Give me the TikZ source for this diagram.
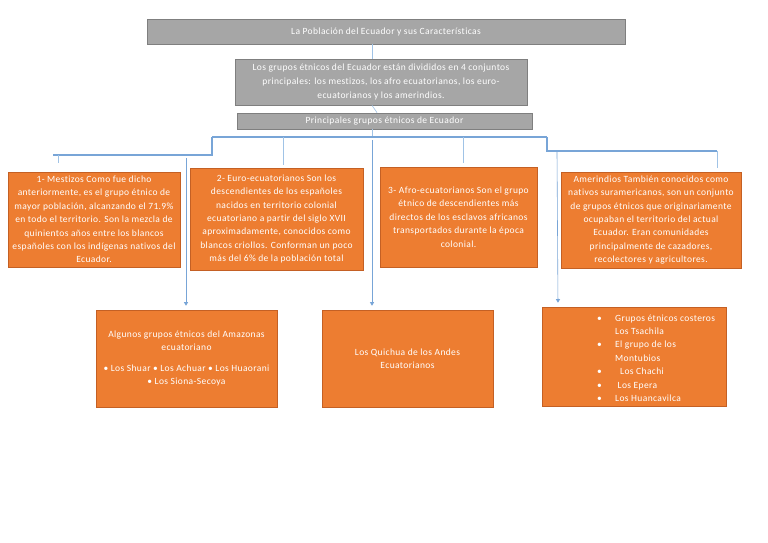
\documentclass[tikz,border=0pt]{standalone}
\usepackage{fontspec}
\setmainfont{Carlito}[LetterSpace=4,Ligatures={NoCommon,NoRequired,NoContextual}]
\usetikzlibrary{arrows.meta,calc}
\definecolor{grayfill}{RGB}{166,166,166}
\definecolor{grayline}{RGB}{127,127,127}
\definecolor{orangefill}{RGB}{237,125,49}
\definecolor{orangeline}{RGB}{196,96,36}
\definecolor{linkblue}{RGB}{120,165,215}
\definecolor{linklight}{RGB}{160,195,230}
\tikzset{
  graybox/.style={draw=grayline, fill=grayfill, line width=0.8pt, inner sep=0pt, text=white, align=center,
    font=\fontsize{9.5}{13.6}\selectfont},
  orangebox/.style={draw=orangeline, fill=orangefill, line width=0.6pt, inner sep=0pt, text=white, align=center,
    font=\fontsize{9.5}{13.4}\selectfont},
  mainlink/.style={draw=linkblue, line width=1.1pt},
  sublink/.style={draw=linklight, line width=0.6pt},
  arrowlink/.style={draw=linkblue, line width=0.6pt, -{Triangle[width=4pt,length=3.5pt]}, shorten >=4pt},
}
\begin{document}
\begin{tikzpicture}[x=1pt,y=-1pt]
\useasboundingbox (0,0) rectangle (768,543);
\fill[white] (0,0) rectangle (768,543);

% gray header boxes
\node[graybox, minimum width=478pt, minimum height=25pt] (title) at (386,31.5)
  {La Población del Ecuador y sus Características};
\node[graybox, minimum width=292pt, minimum height=46pt] (desc) at (381,82)
  {Los grupos étnicos del Ecuador están divididos en 4 conjuntos\\
   principales: los mestizos, los afro ecuatorianos, los euro-\\
   ecuatorianos y los amerindios.};
\node[graybox, minimum width=295pt, minimum height=16pt] (princ) at (384.5,121)
  {Principales grupos étnicos de Ecuador};

% orange boxes, first row
\node[orangebox, minimum width=172pt, minimum height=95pt] (mest) at (94,219.5)
  {1- Mestizos Como fue dicho\\
   anteriormente, es el grupo étnico de\\
   mayor población, alcanzando el 71.9\%\\
   en todo el territorio. Son la mezcla de\\
   quinientos años entre los blancos\\
   españoles con los indígenas nativos del\\
   Ecuador.};
\node[orangebox, minimum width=173pt, minimum height=102pt] (euro) at (276.5,219)
  {2- Euro-ecuatorianos Son los\\
   descendientes de los españoles\\
   nacidos en territorio colonial\\
   ecuatoriano a partir del siglo XVII\\
   aproximadamente, conocidos como\\
   blancos criollos. Conforman un poco\\
   más del 6\% de la población total};
\node[orangebox, minimum width=157pt, minimum height=100pt] (afro) at (458.5,217)
  {3- Afro-ecuatorianos Son el grupo\\
   étnico de descendientes más\\
   directos de los esclavos africanos\\
   transportados durante la época\\
   colonial.};
\node[orangebox, minimum width=180pt, minimum height=96pt] (amer) at (651,220)
  {Amerindios También conocidos como\\
   nativos suramericanos, son un conjunto\\
   de grupos étnicos que originariamente\\
   ocupaban el territorio del actual\\
   Ecuador. Eran comunidades\\
   principalmente de cazadores,\\
   recolectores y agricultores.};

% orange boxes, second row
\node[orangebox, minimum width=181pt, minimum height=97pt] (amaz) at (186.5,358.5)
  {Algunos grupos étnicos del Amazonas\\
   ecuatoriano\\[7pt]
   \textbullet{} Los Shuar \textbullet{} Los Achuar \textbullet{} Los Huaorani\\
   \textbullet{} Los Siona-Secoya};
\node[orangebox, minimum width=171pt, minimum height=97pt] (quich) at (407.5,358.5)
  {Los Quichua de los Andes\\
   Ecuatorianos};
\node[orangebox, minimum width=184pt, minimum height=99pt] (coast) at (634,356.5) {};
\node[anchor=west, inner sep=0pt, text=white, align=left,
      font=\fontsize{9.5}{13.4}\selectfont] (coasttext) at (597,358)
  {\makebox[18pt][l]{\textbullet}Grupos étnicos costeros\\
   \makebox[18pt][l]{}Los Tsachila\\
   \makebox[18pt][l]{\textbullet}El grupo de los\\
   \makebox[18pt][l]{}Montubios\\
   \makebox[18pt][l]{\textbullet}\hspace{5pt}Los Chachi\\
   \makebox[18pt][l]{\textbullet}\hspace{2.5pt}Los Epera\\
   \makebox[18pt][l]{\textbullet}Los Huancavilca};

% connector coordinates
\coordinate (hub) at (372,137);
\coordinate (jl) at (212,137);
\coordinate (jr) at (547,137);
\coordinate (jl2) at (212,155);
\coordinate (lend) at (53,155);
\coordinate (mtick) at (58,155);
\coordinate (jr2) at (547,151);
\coordinate (rend) at (717,151);
\coordinate (eurotop) at (283,137);
\coordinate (afrotop) at (463,137);
\coordinate (amazstart) at (186,158);
\coordinate (quichstart) at (372,140);
\coordinate (coaststart) at (557,152);

% header connectors
\draw[sublink] (hub |- title.south) -- (hub |- desc.north);
\draw[sublink] (desc.south -| hub) -- (princ.north -| 377,0);
\draw[sublink] (princ.south -| hub) -- (hub);

% main tree
\draw[mainlink] (jl) -- (jr);
\draw[mainlink] (jl) -- (jl2) -- (lend);
\draw[mainlink] (jr) -- (jr2) -- (rend);
\draw[sublink, line width=1pt] (mtick) -- ($(mest.north -| mtick)+(0,-9)$);
\draw[sublink] (eurotop) -- ($(euro.north -| eurotop)+(0,-3)$);
\draw[sublink] (afrotop) -- ($(afro.north -| afrotop)+(0,-4)$);
\draw[sublink] (rend) -- ($(amer.north -| rend)+(0,-4)$);

% arrows to second row
\draw[arrowlink] (amazstart) -- (amaz.north -| amazstart);
\draw[arrowlink] (quichstart) -- (quich.north -| quichstart);
\draw[arrowlink] (coaststart) -- (coast.north -| 558,0);
\end{tikzpicture}
\end{document}
